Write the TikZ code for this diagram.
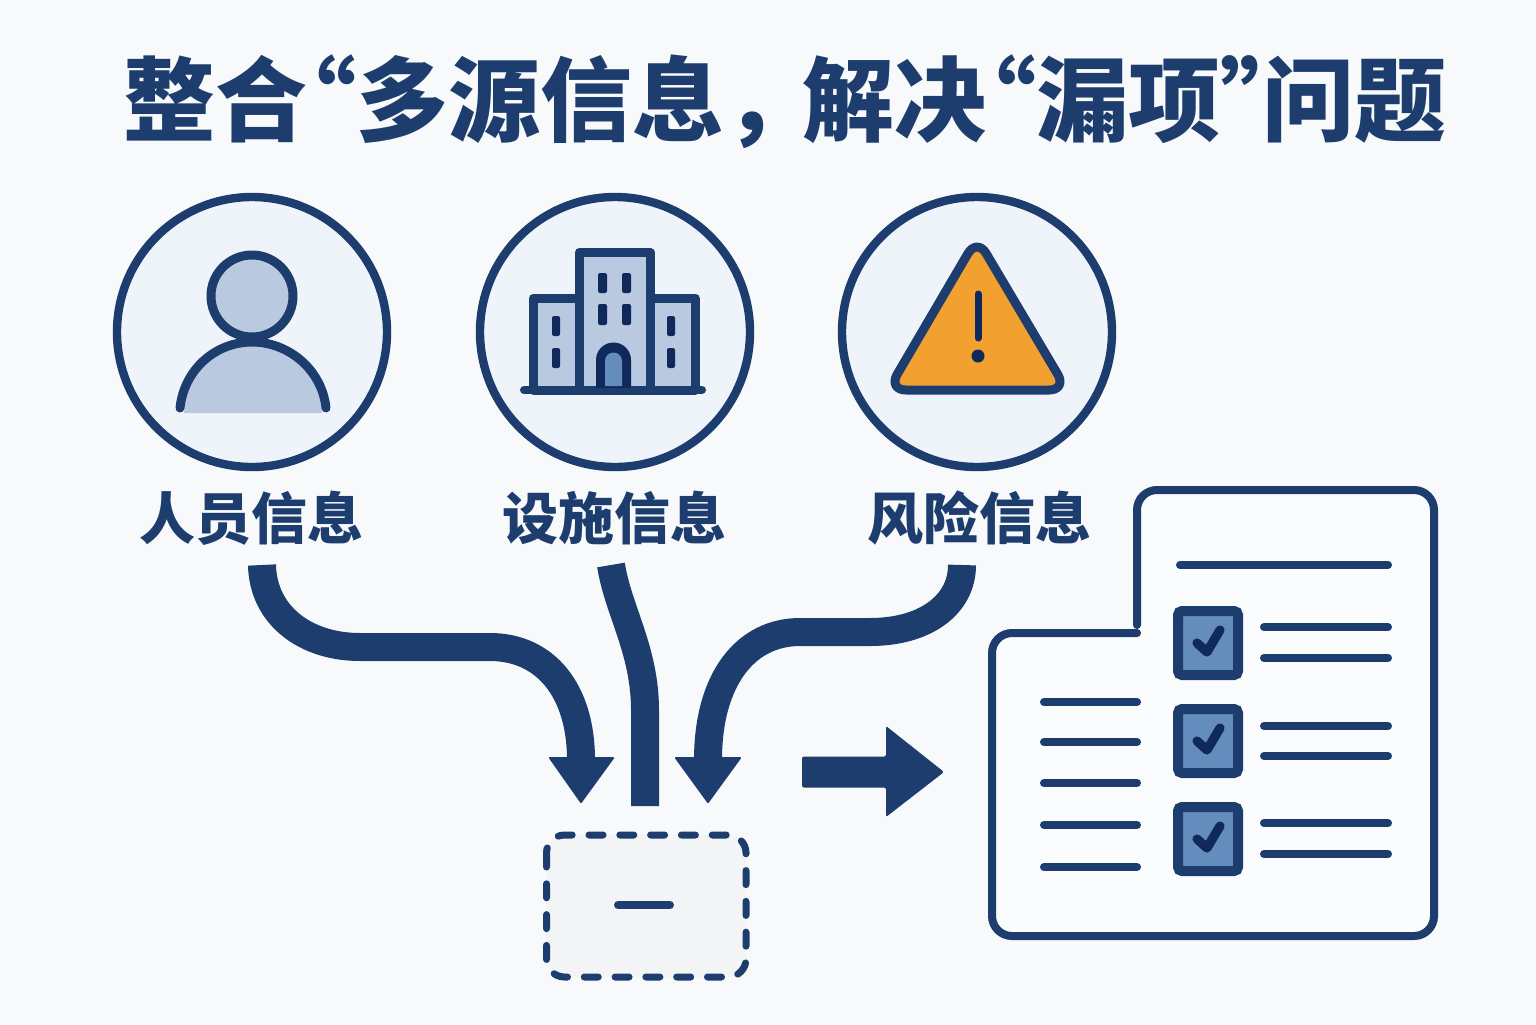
\documentclass[tikz,border=0pt]{standalone}
\usepackage{fontspec}
\newfontfamily\cjk{Noto Sans CJK SC}
\definecolor{navy}{HTML}{1D3D6E}
\definecolor{deep}{HTML}{10295C}
\definecolor{bgc}{HTML}{F8F9FA}
\definecolor{disc}{HTML}{EFF4FB}
\definecolor{pale}{HTML}{B9C9E0}
\definecolor{mid}{HTML}{648DBE}
\definecolor{warn}{HTML}{F2A030}
\definecolor{boxfill}{HTML}{F3F4F6}
\definecolor{paper}{HTML}{FBFCFD}
\tikzset{
  disccircle/.style={circle,draw=navy,fill=disc,line width=4.2pt,minimum size=135pt,inner sep=0pt},
  lab/.style={font=\cjk\bfseries\fontsize{28}{28}\selectfont,text=navy,inner sep=0pt},
  flow/.style={draw=navy,line width=14pt},
  head/.style={fill=navy,draw=navy,line width=1pt,line join=round},
  icon/.style={draw=navy,line width=4.5pt,line join=round},
  win/.style={fill=deep,rounded corners=1pt},
  textline/.style={draw=navy,line width=4pt,line cap=round},
  cbox/.style={draw=navy,fill=mid,line width=5pt,rounded corners=2pt},
  tick/.style={draw=deep,line width=4.6pt,line cap=round,line join=round}
}
\begin{document}
\begin{tikzpicture}[x=0.5pt,y=-0.5pt]
\fill[bgc] (0,0) rectangle (1536,1024);
\useasboundingbox (0,0) rectangle (1536,1024);
% title
\node[anchor=west,inner sep=0pt,text=navy,font=\cjk\bfseries\fontsize{46}{46}\selectfont] (title) at (123,102)
 {整合\kern-.47em“多源信息，\kern-.15em 解决\kern-.46em“漏项”\kern-.54em 问题};
% discs
\node[disccircle] (c1) at (252,332) {};
\node[disccircle] (c2) at (615,332) {};
\node[disccircle] (c3) at (977,332) {};
% labels
\node[lab] (l1) at (251,518) {人员信息};
\node[lab] (l2) at (614,518) {设施信息};
\node[lab] (l3) at (979,518) {风险信息};
% person
\fill[pale] (184,413) .. controls (186,375) and (215,345) .. (252,345) .. controls (289,345) and (320,375) .. (322,413) -- cycle;
\draw[icon,line cap=round] (180,408) .. controls (184,370) and (215,342) .. (252,342) .. controls (289,342) and (322,370) .. (326,408);
\draw[icon,fill=pale] (252,296) circle[radius=41];
% building
\draw[icon,fill=pale] (533,390) -- (533,298) -- (695,298) -- (695,390) -- cycle;
\draw[icon,fill=pale] (579,390) -- (579,252) -- (650,252) -- (650,390) -- cycle;
\draw[navy,line width=4pt,line cap=round] (524,390) -- (702,390);
\foreach \x in {598,622}{
  \fill[win] (\x,273) rectangle ++(9,20);
  \fill[win] (\x,304) rectangle ++(9,21);
}
\foreach \x in {552,667}{
  \fill[win] (\x,316) rectangle ++(8,20);
  \fill[win] (\x,348) rectangle ++(8,20);
}
\fill[deep] (596,388) -- (596,360) arc[start angle=180,end angle=360,radius=17.5] -- (631,388) -- cycle;
\fill[mid] (605,386) -- (605,361) arc[start angle=180,end angle=360,radius=8.5] -- (622,386) -- cycle;
% warning
\draw[icon,fill=warn,rounded corners=9pt] (977,238) -- (1067,390) -- (888,390) -- cycle;
\draw[deep,line width=3.5pt,line cap=round] (978,294) -- (978,338);
\fill[deep] (978,356) circle[radius=6.5];
% connectors
\coordinate (s1) at (262,565);
\coordinate (e1) at (581,760);
\coordinate (s2) at (611,565);
\coordinate (e2) at (645,806);
\coordinate (s3) at (962,565);
\coordinate (e3) at (708,760);
\draw[flow] (s1) .. controls (263,615) and (305,647) .. (360,647) -- (490,647) .. controls (545,647) and (581,690) .. (e1);
\draw[flow] (s2) .. controls (618,610) and (645,650) .. (645,710) -- (e2);
\draw[flow] (s3) .. controls (962,605) and (925,632) .. (870,632) -- (800,632) .. controls (745,632) and (708,680) .. (e3);
\fill[head] (e1)+(-31,-2) -- ++(32,-2) -- ++(-32,44) -- cycle;
\fill[head] (e3)+(-32,-2) -- ++(32,-2) -- ++(-32,44) -- cycle;
% merge box
\draw[navy,fill=boxfill,line width=3.5pt,line cap=round,dash pattern=on 7pt off 8.4pt,rounded corners=9pt] (546.5,835) rectangle (746,977);
\node[inner sep=0pt,minimum width=0pt] (box) at (644,905) {};
\draw[textline] (box.center)+(-26,0) -- ++(26,0);
% big arrow
\coordinate (arrs) at (802,772);
\coordinate (arre) at (944,772);
\fill[navy,rounded corners=1pt] (arrs)+(0,-15.5) -- (886,756.5) -- (886,726) -- (arre) -- (886,817) -- (886,787.5) -- (802,787.5) -- cycle;
% document
\fill[paper,rounded corners=9pt] (1137,489) -- (1435,489) -- (1435,937) -- (992,937) -- (992,633) -- (1137,633) -- cycle;
\draw[navy,line width=4pt,line cap=round,rounded corners=10pt] (1137,625) -- (1137,490) -- (1434,490) -- (1434,936) -- (992,936) -- (992,633) -- (1137,633);
\draw[textline] (1180,565) -- (1388,565);
\foreach \y in {627,658,726,756,823,854}{ \draw[textline] (1264,\y) -- (1388,\y); }
\foreach \y in {702,742,783,825,867}{ \draw[textline] (1044,\y) -- (1137,\y); }
\foreach \y in {611,709,807}{
  \draw[cbox] (1178,\y) rectangle (1238,\y+64);
  \draw[tick] (1197,\y+32) -- (1207,\y+41) -- (1220,\y+19);
}
\end{tikzpicture}
\end{document}
